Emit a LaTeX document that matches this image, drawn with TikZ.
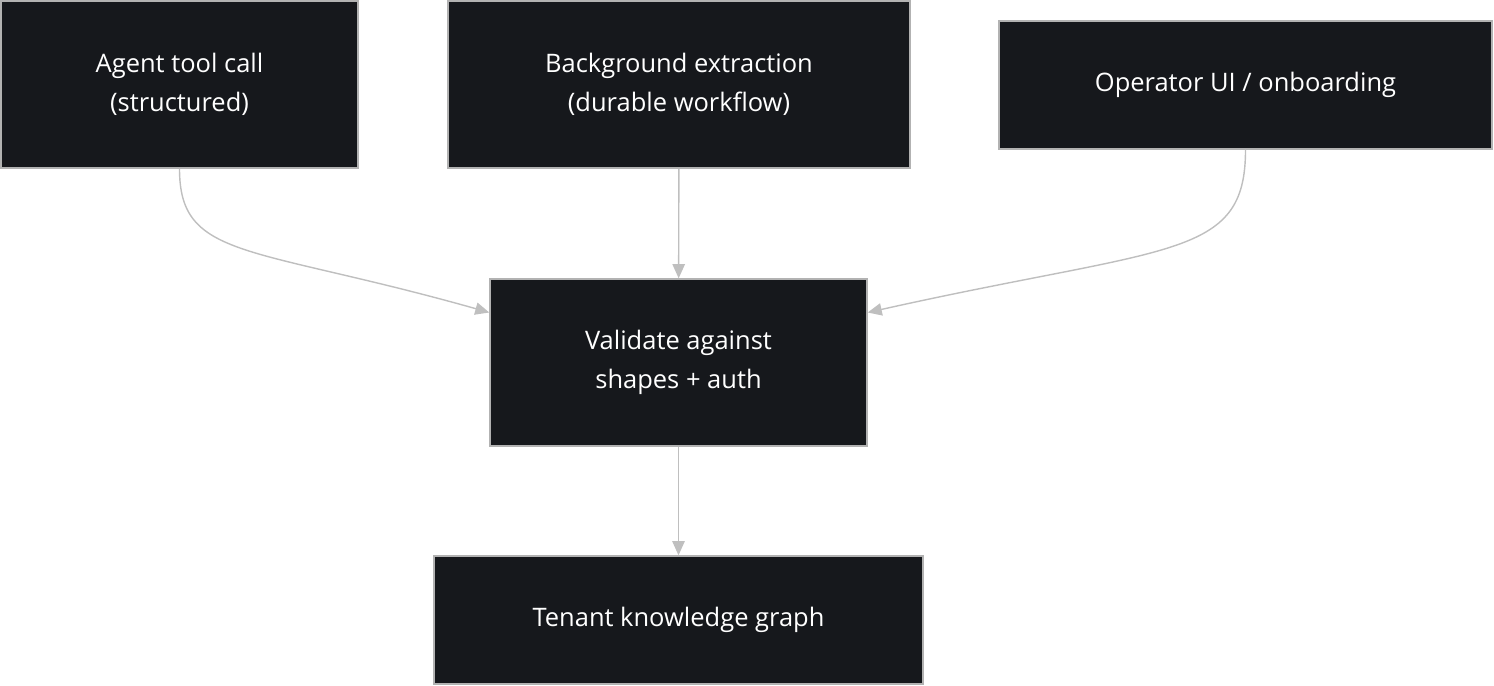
\documentclass[tikz,border=0pt]{standalone}
\usepackage{fontspec}
\setmainfont{Open Sans}
\usetikzlibrary{arrows.meta}

\begin{document}
\begin{tikzpicture}[>={Triangle[length=8pt,width=7pt]},
  box/.style={draw=gray!60,fill={rgb,255:red,22;green,24;blue,28},text=white,
    align=center,font=\fontsize{14.5}{22}\selectfont,inner sep=0pt,line width=0.8pt},
  flow/.style={->,draw=gray!50,line width=0.8pt}]

\useasboundingbox (0,0) rectangle (29.88,-13.72);

\node[box,minimum width=7.14cm,minimum height=3.34cm]   (agent)   at (3.59,-1.69)   {Agent tool call\\(structured)};
\node[box,minimum width=9.24cm,minimum height=3.34cm]   (extract) at (13.58,-1.69)  {Background extraction\\(durable workflow)};
\node[box,minimum width=9.86cm,minimum height=2.56cm]   (ui)      at (24.91,-1.70)  {Operator UI / onboarding};
\node[box,minimum width=7.54cm,minimum height=3.34cm]   (valid)   at (13.57,-7.25)  {Validate against\\shapes + auth};
\node[box,minimum width=9.78cm,minimum height=2.56cm]   (graph)   at (13.57,-12.40) {Tenant knowledge graph};

	\draw[flow] (agent.south) .. controls (3.59,-5.2) and (5.0,-4.9) .. ([yshift=1cm]valid.west);
	\draw[flow] (extract) -- (valid);
	\draw[flow] (ui.south) .. controls (24.91,-5.2) and (23.4,-4.9) .. ([yshift=1cm]valid.east);
	\draw[flow] (valid) -- (graph);
\end{tikzpicture}
\end{document}
